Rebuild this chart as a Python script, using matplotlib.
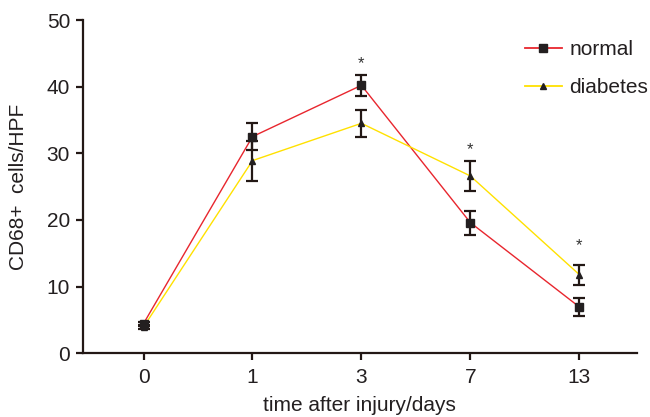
import matplotlib
matplotlib.use("Agg")
import matplotlib.pyplot as plt
import numpy as np

plt.rcParams['font.family'] = ['Liberation Sans', 'DejaVu Sans']

days = ["0", "1", "3", "7", "13"]
normal = [4.45, 32.5, 40.2, 19.6, 6.95]
normal_err = [0.3, 2.0, 1.55, 1.8, 1.4]
diabetes = [3.95, 28.9, 34.5, 26.6, 11.8]
diabetes_err = [0.3, 3.0, 2.0, 2.3, 1.5]
star_days = ["3", "7", "13"]
star_vals = [43.4, 30.5, 16.2]

axcol = '#231815'
txtcol = '#231f20'
fs = 15

fig = plt.figure(figsize=(6.5, 4.17), dpi=100)
ax = fig.add_axes([0.127, 0.153, 0.853, 0.799])

x = np.arange(len(days))

ax.plot(x, normal, color='#e8262e', lw=1.0, zorder=2)
ax.plot(x, diabetes, color='#ffe100', lw=1.0, zorder=2)
ax.errorbar(x, normal, yerr=normal_err, fmt='none', ecolor=axcol, elinewidth=1.6,
            capsize=4.5, capthick=1.6, zorder=3)
ax.errorbar(x, diabetes, yerr=diabetes_err, fmt='none', ecolor=axcol, elinewidth=1.6,
            capsize=4.5, capthick=1.6, zorder=3)
ax.plot(x, normal, ls='none', marker='s', ms=5.5, color='#231f20', zorder=4)
ax.plot(x, diabetes, ls='none', marker='^', ms=4, color='#231f20', zorder=4)

# legend proxies
ax.plot([], [], color='#e8262e', lw=1.3, marker='s', ms=6, mfc='#231f20', mec='#231f20', label='normal')
ax.plot([], [], color='#ffe100', lw=1.3, marker='^', ms=4, mfc='#231f20', mec='#231f20', label='diabetes')
handles, labels = ax.get_legend_handles_labels()
leg = ax.legend(handles[-2:], labels[-2:], loc='upper right', bbox_to_anchor=(1.054, 0.995),
                frameon=False, fontsize=fs, handlelength=1.8, labelspacing=0.9,
                handletextpad=0.35, labelcolor=txtcol)

for d, v in zip(star_days, star_vals):
    ax.text(days.index(d), v, '*', ha='center', va='center', fontsize=12, color='#333333')

ax.set_xlim(-0.56, 4.53)
ax.set_ylim(0, 50)
ax.set_xticks(x)
ax.set_xticklabels(days)
ax.set_yticks([0, 10, 20, 30, 40, 50])

for s in ['top', 'right']:
    ax.spines[s].set_visible(False)
for s in ['left', 'bottom']:
    ax.spines[s].set_color(axcol)
    ax.spines[s].set_linewidth(1.6)
ax.tick_params(axis='both', colors=axcol, width=1.6, length=5, labelsize=fs, labelcolor=txtcol)
ax.tick_params(axis='x', pad=6)
ax.tick_params(axis='y', pad=4)

ax.set_xlabel('time after injury/days', fontsize=fs, color=txtcol, labelpad=6)
ax.set_ylabel('CD68+  cells/HPF', fontsize=fs, color=txtcol)
ax.yaxis.set_label_coords(-0.098, 0.5)

fig.savefig('out.png', dpi=100)
